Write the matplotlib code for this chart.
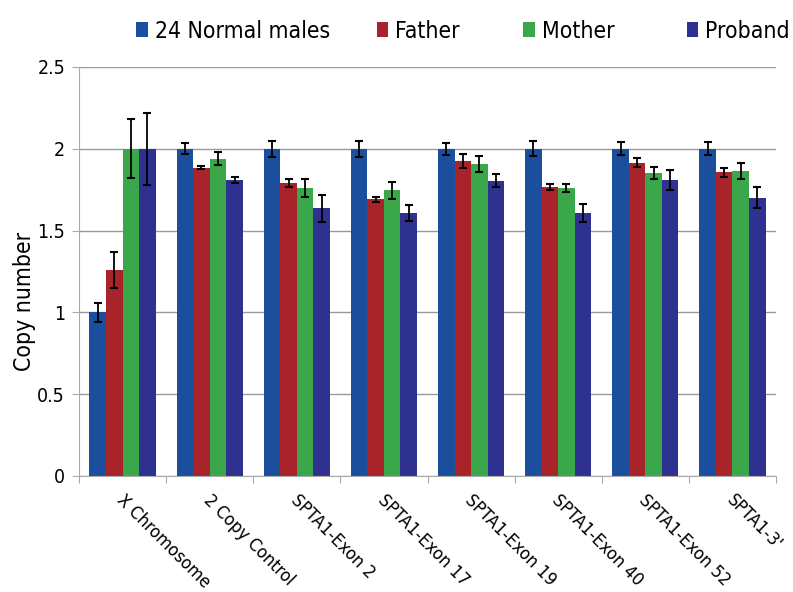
import numpy as np
import matplotlib
matplotlib.use("Agg")
import matplotlib.pyplot as plt

categories = ["X Chromosome", "2 Copy Control", "SPTA1-Exon 2", "SPTA1-Exon 17",
              "SPTA1-Exon 19", "SPTA1-Exon 40", "SPTA1-Exon 52", "SPTA1-3'"]
series_names = ["24 Normal males", "Father", "Mother", "Proband"]

normal = [1.00, 2.00, 2.00, 2.00, 2.00, 2.00, 2.00, 2.00]
normal_err = [0.06, 0.035, 0.05, 0.05, 0.037, 0.045, 0.04, 0.04]
father = [1.26, 1.885, 1.79, 1.69, 1.925, 1.765, 1.915, 1.855]
father_err = [0.11, 0.01, 0.025, 0.015, 0.045, 0.02, 0.027, 0.025]
mother = [2.00, 1.94, 1.76, 1.745, 1.905, 1.76, 1.85, 1.865]
mother_err = [0.18, 0.04, 0.055, 0.05, 0.05, 0.027, 0.038, 0.05]
proband = [2.00, 1.81, 1.635, 1.607, 1.805, 1.607, 1.81, 1.70]
proband_err = [0.22, 0.02, 0.08, 0.05, 0.04, 0.055, 0.06, 0.065]

colors = ["#1b4f9e", "#a8232a", "#3aa84a", "#2e3190"]
legend_x = [0.172, 0.475, 0.660, 0.866]

plt.rcParams["font.family"] = ["DejaVu Sans"]
plt.rcParams["font.stretch"] = "condensed"

W, H = 793, 592
fig = plt.figure(figsize=(W / 100, H / 100), dpi=100)
ax = fig.add_axes([0.0996, 0.196, 0.879, 0.691])

x = np.arange(len(categories))
w = 0.19
data = [(normal, normal_err), (father, father_err), (mother, mother_err), (proband, proband_err)]
handles = []
for i, ((vals, errs), c, name) in enumerate(zip(data, colors, series_names)):
    pos = x + (i - 1.5) * w
    b = ax.bar(pos, vals, width=w, color=c, label=name, zorder=2)
    ax.errorbar(pos, vals, yerr=errs, fmt="none", ecolor="black", elinewidth=1.3,
                capsize=3, capthick=1.5, zorder=3)
    handles.append(b)

ax.set_xlim(-0.5, len(categories) - 0.5)
ax.set_ylim(0, 2.5)
ax.set_yticks([0, 0.5, 1, 1.5, 2, 2.5])
ax.set_yticklabels(["0", "0.5", "1", "1.5", "2", "2.5"], fontsize=14)
ax.yaxis.grid(True, color="#9a9a9a", linewidth=1.0, zorder=0)
ax.set_axisbelow(True)

ax.set_xticks(np.arange(len(categories) + 1) - 0.5)
ax.set_xticklabels([])
ax.tick_params(axis="x", length=5, color="#aaaaaa", direction="out")
ax.tick_params(axis="y", length=5, color="#aaaaaa", direction="out", pad=5)
for i, cat in enumerate(categories):
    ax.text(i - 0.04, -0.13, cat, rotation=-45, rotation_mode="anchor",
            ha="left", va="center", fontsize=13, clip_on=False)

for s in ["top", "right"]:
    ax.spines[s].set_visible(False)
for s in ["left", "bottom"]:
    ax.spines[s].set_color("#aaaaaa")

fig.text(24 / W, 1 - 301 / H, "Copy number", rotation=90, ha="center", va="center",
         fontsize=16.5)

for h, name, lx in zip(handles, series_names, legend_x):
    fig.legend(handles=[h], labels=[name], loc="center left", bbox_to_anchor=(lx, 1 - 31 / H),
               frameon=False, fontsize=16.5, handlelength=0.5, handleheight=0.65,
               handletextpad=0.3, borderpad=0, borderaxespad=0)

fig.savefig("out.png", dpi=100)
